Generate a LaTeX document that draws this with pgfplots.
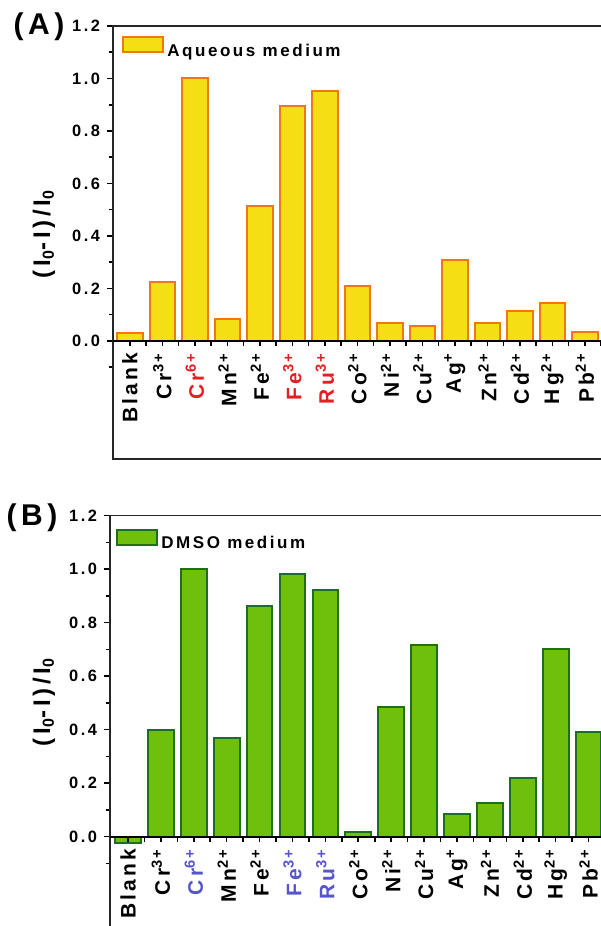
\documentclass[border=0pt]{standalone}
\usepackage{fontspec}
\setmainfont{Liberation Sans}[LetterSpace=15]
\usepackage{pgfplots}
\pgfplotsset{compat=1.18}
\definecolor{ayel}{RGB}{246,222,20}
\definecolor{aora}{RGB}{238,120,20}
\definecolor{bgrn}{RGB}{110,192,10}
\definecolor{bdk}{RGB}{30,110,30}
\definecolor{lblred}{RGB}{228,30,35}
\definecolor{lblblue}{RGB}{85,85,205}
\pgfplotsset{
  panel/.style={
    scale only axis, anchor=south west,
    ybar, bar width=0.78,
    ymin=-0.45, ymax=1.2, xmax=14.7,
    axis line style={line width=0.9pt, black!85},
    xtick=\empty, ytick pos=left,
    ytick={0,0.2,0.4,0.6,0.8,1.0,1.2},
    minor ytick={-0.1,0.1,0.3,0.5,0.7,0.9,1.1},
    tick align=outside,
    major tick length=3pt, minor tick length=2pt,
    tick style={black, line width=0.8pt},
    yticklabel style={font=\fontsize{8.2}{10}\selectfont\bfseries, /pgf/number format/.cd, fixed, fixed zerofill, precision=1, assume math mode=true},
    legend style={draw=none, fill=none, anchor=north west, font=\fontsize{8.5}{10}\selectfont\bfseries, nodes={inner sep=0pt}, /tikz/column sep=1.5pt},
  },
  zeroaxis/.style={
    scale only axis, anchor=south west, height=10pt,
    ymin=0, ymax=1, xmax=14.7,
    axis x line=bottom, axis y line=none,
    axis line style={-, line width=1pt, black},
    xtick={0,...,14}, minor xtick={0.5,1.5,...,14.5},
    tick align=outside,
    major tick length=2.5pt, minor tick length=2.5pt,
    tick style={black, line width=0.8pt},
    xticklabel style={rotate=90, anchor=east, font=\fontsize{10.5}{12}\selectfont\bfseries},
  },
  mylegend/.style={legend image code/.code={\draw[##1, line width=1pt] (0pt,-0.5pt) rectangle (20pt,7pt);}},
}
\newcommand{\ylab}{(I\textsubscript{0}-I)/I\textsubscript{0}}
\begin{document}
\begin{tikzpicture}
% ---------- Panel A ----------
\begin{axis}[panel,
  at={(56.5pt,233.5pt)}, width=247.3pt, height=216.5pt, xmin=-0.52,
  legend style={at={(rel axis cs:0.006,0.986)}},
]
\addplot[ybar, fill=ayel, draw=aora, line width=1pt, mylegend] coordinates {
 (0,0.030) (1,0.225) (2,1.000) (3,0.084) (4,0.514) (5,0.894) (6,0.954) (7,0.209)
 (8,0.067) (9,0.057) (10,0.308) (11,0.067) (12,0.115) (13,0.143) (14,0.034)};
\addlegendentry{Aqueous medium}
\end{axis}
\begin{axis}[zeroaxis,
  at={(56.5pt,292.55pt)}, width=247.3pt, xmin=-0.52,
  xticklabels={Blank, Cr\textsuperscript{3+}, {\textcolor{lblred}{Cr\textsuperscript{6+}}}, Mn\textsuperscript{2+}, Fe\textsuperscript{2+}, {\textcolor{lblred}{Fe\textsuperscript{3+}}}, {\textcolor{lblred}{Ru\textsuperscript{3+}}}, Co\textsuperscript{2+}, Ni\textsuperscript{2+}, Cu\textsuperscript{2+}, Ag\textsuperscript{+}, Zn\textsuperscript{2+}, Cd\textsuperscript{2+}, Hg\textsuperscript{2+}, Pb\textsuperscript{2+}},
]
\end{axis}
% ---------- Panel B ----------
\begin{axis}[panel,
  at={(55pt,-15.5pt)}, width=250.8pt, height=220.7pt, xmin=-0.547,
  legend style={at={(rel axis cs:0.0,0.979)}},
]
\addplot[ybar, fill=bgrn, draw=bdk, line width=1pt, mylegend] coordinates {
 (0,-0.025) (1,0.400) (2,1.000) (3,0.367) (4,0.861) (5,0.980) (6,0.920) (7,0.016)
 (8,0.485) (9,0.717) (10,0.085) (11,0.127) (12,0.219) (13,0.700) (14,0.390)};
\addlegendentry{DMSO medium}
\end{axis}
\begin{axis}[zeroaxis,
  at={(55pt,44.69pt)}, width=250.8pt, xmin=-0.547,
  xticklabels={Blank, Cr\textsuperscript{3+}, {\textcolor{lblblue}{Cr\textsuperscript{6+}}}, Mn\textsuperscript{2+}, Fe\textsuperscript{2+}, {\textcolor{lblblue}{Fe\textsuperscript{3+}}}, {\textcolor{lblblue}{Ru\textsuperscript{3+}}}, Co\textsuperscript{2+}, Ni\textsuperscript{2+}, Cu\textsuperscript{2+}, Ag\textsuperscript{+}, Zn\textsuperscript{2+}, Cd\textsuperscript{2+}, Hg\textsuperscript{2+}, Pb\textsuperscript{2+}},
]
\end{axis}
% ---------- labels ----------
\node[rotate=90, font=\fontsize{12}{14}\selectfont\bfseries] at (22pt,346pt) {\ylab};
\node[rotate=90, font=\fontsize{12}{14}\selectfont\bfseries] at (22pt,112pt) {\ylab};
\node[font=\fontsize{15}{18}\selectfont\bfseries] at (19.5pt,449.5pt) {(A)};
\node[font=\fontsize{15}{18}\selectfont\bfseries] at (16pt,204pt) {(B)};
\pgfresetboundingbox
\useasboundingbox (0,0) rectangle (300pt,463pt);
\end{tikzpicture}
\end{document}
